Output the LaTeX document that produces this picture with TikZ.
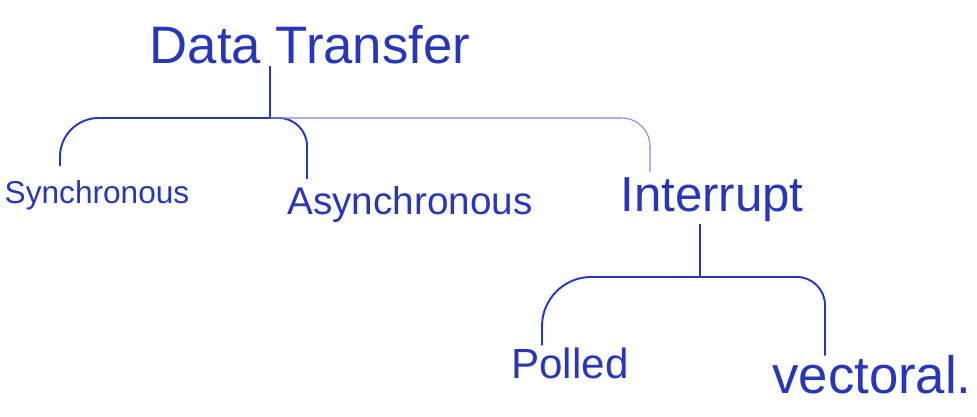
\documentclass[tikz,border=0pt]{standalone}
\usepackage{fontspec}
\setmainfont{Liberation Sans}
\usetikzlibrary{positioning}
\definecolor{ink}{RGB}{40,55,185}
\tikzset{
  word/.style = {inner sep=1pt, text=ink,
    font=\fontsize{#1}{#1}\selectfont},% handwritten-ish label
  branch/.style = {draw=ink, line width=1.1pt, rounded corners=16pt},
  twig/.style = {branch, line width=0.6pt, draw=ink!60}% faint pen stroke
}

\begin{document}
\begin{tikzpicture}[x=0.02cm, y=-0.02cm]
  \useasboundingbox (0,0) rectangle (977,416);
  \node (dt) [word=30pt] at (310,45) {Data Transfer};
  \coordinate (rj) at (270,118);
  \node (sync) [word=18pt] at (97,195) {Synchronous};
  \node (async) [word=22pt] at (410,205) {Asynchronous};
  \node (intr) [word=28pt] at (712,200) {Interrupt};
  \coordinate (ij) at (700,277);
  \node (poll) [word=24pt] at (570,363) {Polled};
  \node (vect) [word=30pt] at (872,375) {vectoral.};

  % top level
  \draw[branch] (rj |- dt.south) -- (rj);
  \draw[branch, rounded corners=22pt] (rj) -| ([shift={(-37,-12)}]sync.north);
  \draw[branch] (rj) -| ([shift={(-103,-6)}]async.north);
  \draw[twig] (rj) -| ([shift={(-62,-4)}]intr.north);
  % interrupt kinds
  \draw[branch] (ij |- intr.south) -- (ij);
  \draw[branch, rounded corners=28pt] (ij) -| ([shift={(-28,0)}]poll.north);
  \draw[branch] (ij) -| ([shift={(-47,2)}]vect.north);
\end{tikzpicture}
\end{document}
